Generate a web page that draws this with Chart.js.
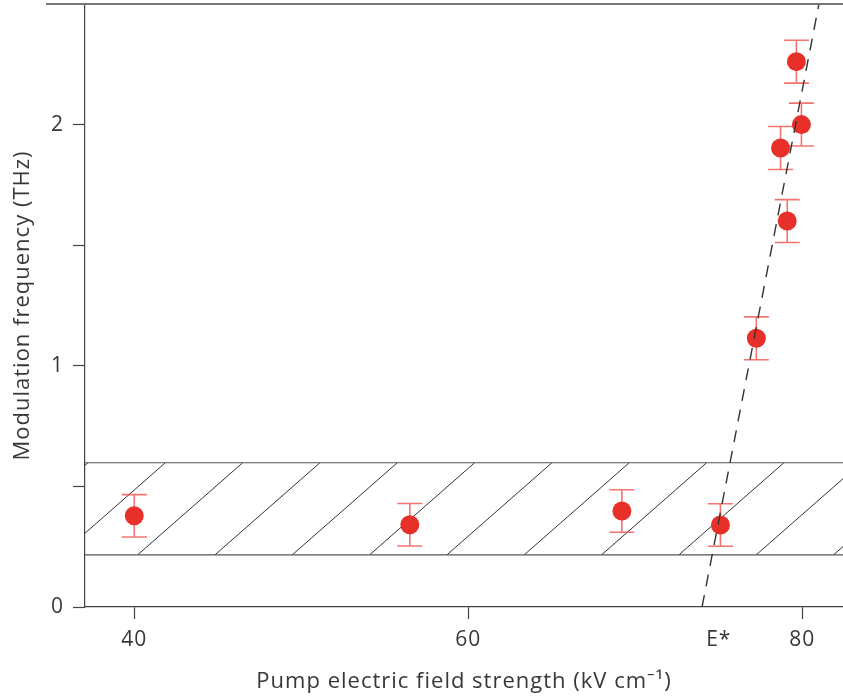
<!DOCTYPE html>
<html>
<head>
<meta charset="utf-8">
<script src="https://cdn.jsdelivr.net/npm/chart.js@4/dist/chart.umd.min.js"></script>
<style>
  html, body { margin: 0; padding: 0; background: #fff; }
  #wrap { width: 843px; height: 699px; }
</style>
</head>
<body>
<div id="wrap"><canvas id="modChart" width="843" height="699"></canvas></div>
<script>
// measured points (kV/cm, THz)
const fieldStrength = [40.0, 56.5, 69.2, 75.1, 77.25, 78.7, 79.1, 79.65, 79.95];
const modFreq       = [0.378, 0.341, 0.398, 0.340, 1.114, 1.903, 1.600, 2.261, 2.000];
const freqErr       = [0.088, 0.088, 0.088, 0.088, 0.089, 0.089, 0.089, 0.089, 0.089];

// dashed linear fit, end points
const fitX = [74.0, 81.0];
const fitY = [0, 2.5];

// hatched band (THz) and its hatching, in axis units
const bandLow  = 0.216;
const bandHigh = 0.598;
const hatchStart = 40.2;
const hatchStep  = 4.63;
const hatchRun   = 6.29;

const xTicks      = [40, 60, 75, 80];
const xTickLabels = ['40', '60', 'E*', '80'];
const yTicks      = [0, 0.5, 1, 1.5, 2];
const yTickLabels = ['0', '', '1', '', '2'];

const AXIS = '#444';
const TEXT = '#383838';
const FONT = "'Open Sans', 'Noto Sans', sans-serif";

const bandPlugin = {
  id: 'band',
  beforeDraw(chart) {
    // the figure's lettering is set a little loose
    chart.ctx.letterSpacing = '1px';
  },
  beforeDatasetsDraw(chart) {
    const { ctx, chartArea: a, scales: { x, y } } = chart;
    const yl = y.getPixelForValue(bandLow);
    const yh = y.getPixelForValue(bandHigh);

    ctx.save();
    ctx.beginPath();
    ctx.rect(a.left, yh, a.right - a.left, yl - yh);
    ctx.clip();
    ctx.strokeStyle = '#333';
    ctx.lineWidth = 1;
    ctx.beginPath();
    for (let v = hatchStart - 2 * hatchStep; v < x.max + hatchStep; v += hatchStep) {
      ctx.moveTo(x.getPixelForValue(v), yl);
      ctx.lineTo(x.getPixelForValue(v + hatchRun), yh);
    }
    ctx.stroke();
    ctx.restore();

    ctx.save();
    ctx.strokeStyle = '#555';
    ctx.lineWidth = 1.2;
    ctx.beginPath();
    ctx.moveTo(a.left, yl); ctx.lineTo(a.right, yl);
    ctx.moveTo(a.left, yh); ctx.lineTo(a.right, yh);
    ctx.stroke();

    // error bars
    ctx.strokeStyle = 'rgba(238, 70, 65, 0.75)';
    ctx.lineWidth = 1.6;
    ctx.beginPath();
    fieldStrength.forEach((f, i) => {
      const px = x.getPixelForValue(f);
      const top = y.getPixelForValue(modFreq[i] + freqErr[i]);
      const bot = y.getPixelForValue(modFreq[i] - freqErr[i]);
      ctx.moveTo(px, top); ctx.lineTo(px, bot);
      ctx.moveTo(px - 12.5, top); ctx.lineTo(px + 12.5, top);
      ctx.moveTo(px - 12.5, bot); ctx.lineTo(px + 12.5, bot);
    });
    ctx.stroke();
    ctx.restore();
  },
  afterDraw(chart) {
    const { ctx, chartArea: a } = chart;
    ctx.save();
    ctx.strokeStyle = '#777';
    ctx.lineWidth = 2;
    ctx.beginPath();
    ctx.moveTo(46, a.top);
    ctx.lineTo(chart.width, a.top);
    ctx.stroke();
    ctx.restore();
  }
};

new Chart(document.getElementById('modChart').getContext('2d'), {
  type: 'scatter',
  data: {
    datasets: [
      {
        type: 'line',
        data: fitX.map((v, i) => ({ x: v, y: fitY[i] })),
        borderColor: '#333',
        borderWidth: 1.4,
        borderDash: [12, 9],
        pointRadius: 0,
        fill: false,
        order: 0
      },
      {
        data: fieldStrength.map((v, i) => ({ x: v, y: modFreq[i] })),
        backgroundColor: '#e8302a',
        borderWidth: 0,
        pointRadius: 9.5,
        order: 1
      }
    ]
  },
  options: {
    responsive: false,
    animation: false,
    layout: { autoPadding: false, padding: { top: 4, right: 0, left: 0, bottom: 0 } },
    plugins: { legend: { display: false }, tooltip: { enabled: false } },
    scales: {
      x: {
        type: 'linear',
        min: 37.05,
        max: 82.44,
        afterBuildTicks: s => { s.ticks = xTicks.map(v => ({ value: v })); },
        afterFit: s => {
          s.height = 92;
          s.paddingLeft = 0;
          s.paddingRight = 0;
        },
        ticks: {
          callback: (v, i) => xTickLabels[i],
          font: { family: FONT, size: 21 },
          color: TEXT,
          padding: 8,
          maxRotation: 0
        },
        grid: {
          drawOnChartArea: false,
          tickLength: 12,
          tickWidth: 1.2,
          tickColor: c => (c.tick && c.tick.value === 75 ? 'rgba(0,0,0,0)' : AXIS)
        },
        border: { color: AXIS, width: 1.2 },
        title: {
          display: true,
          text: 'Pump electric field strength (kV cm\u207B\u00B9)',
          font: { family: FONT, size: 22 },
          color: TEXT,
          padding: { top: 0, bottom: 4 }
        }
      },
      y: {
        min: 0,
        max: 2.5,
        afterBuildTicks: s => { s.ticks = yTicks.map(v => ({ value: v })); },
        afterFit: s => {
          s.width = 85;
          s.paddingTop = 0;
          s.paddingBottom = 0;
        },
        ticks: {
          callback: (v, i) => yTickLabels[i],
          font: { family: FONT, size: 21 },
          color: TEXT,
          padding: 9
        },
        grid: {
          drawOnChartArea: false,
          tickLength: 12,
          tickWidth: 1.2,
          tickColor: AXIS
        },
        border: { color: AXIS, width: 1.2 },
        title: {
          display: true,
          text: 'Modulation frequency (THz)',
          font: { family: FONT, size: 22 },
          color: TEXT,
          padding: { top: 10, bottom: 0 }
        }
      }
    }
  },
  plugins: [bandPlugin]
});
</script>
</body>
</html>
